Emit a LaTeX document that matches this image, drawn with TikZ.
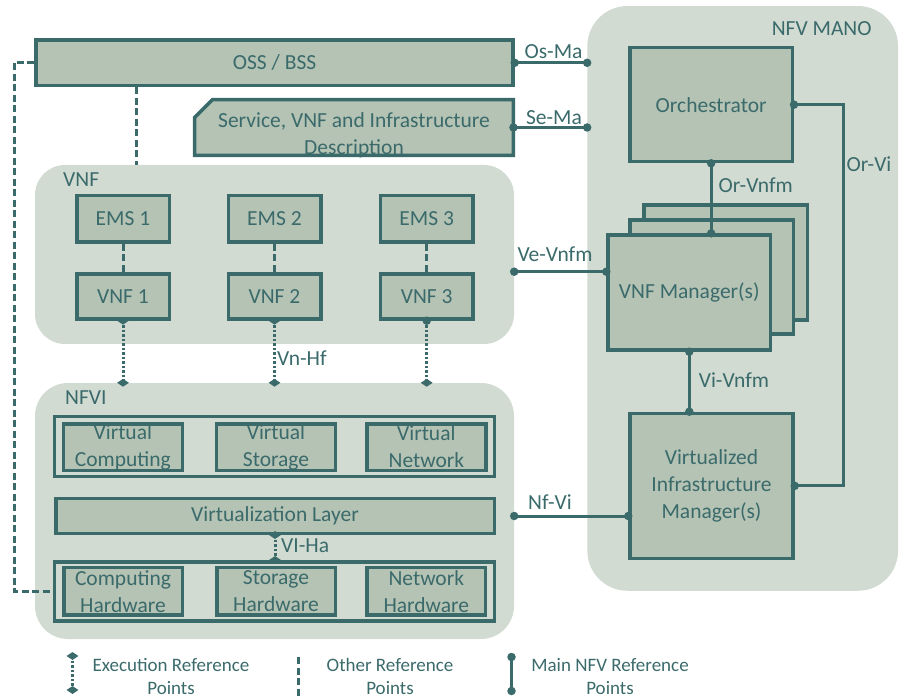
\documentclass[tikz,border=0pt]{standalone}
\usepackage{fontspec}
\setmainfont{Carlito}
\usetikzlibrary{calc,shapes.geometric}
\definecolor{ink}{HTML}{3B6A6B}
\definecolor{boxfill}{HTML}{B4C3B4}
\definecolor{panelfill}{HTML}{D1DBD2}
\newcommand{\lblfont}{\fontsize{21.5}{27}\selectfont}
\newcommand{\keyfont}{\fontsize{19}{23}\selectfont}

\begin{document}
\begin{tikzpicture}[x=1pt,y=-1pt,
  panel/.style={fill=panelfill, draw=none, rounded corners=#1, inner sep=0pt},
  box/.style={draw=ink, fill=boxfill, line width=3.5pt, inner sep=0pt, text=ink, font=\lblfont, align=center},
  group/.style={draw=ink, fill=panelfill, line width=3.5pt, inner sep=0pt},
  lbl/.style={text=ink, font=\lblfont, inner sep=0pt},
  key/.style={text=ink, font=\keyfont, inner sep=0pt, align=center},
  mainref/.style={draw=ink, line width=3pt},
  otherref/.style={draw=ink, line width=3pt, dash pattern=on 7pt off 3.5pt},
  execref/.style={draw=ink, line width=3pt, dash pattern=on 2.5pt off 2pt},
  dot/.style={circle, fill=ink, inner sep=0pt, minimum size=8.5pt},
  gem/.style={diamond, fill=ink, inner sep=0pt, minimum width=12pt, minimum height=8pt},
]
\useasboundingbox (0,0) rectangle (899,700);

% ---------- background panels ----------
\node[panel=40pt, minimum width=310.7pt, minimum height=584.7pt] (mano) at (742.7,298.4) {};
\node[panel=30pt, minimum width=479pt, minimum height=179pt] (vnfpanel) at (274.5,254.5) {};
\node[panel=33pt, minimum width=479pt, minimum height=256pt] (nfvi) at (274.5,511) {};

\node[lbl] at (821.7,28.3) {NFV MANO};
\node[lbl, anchor=west] at (63,179.3) {VNF};
\node[lbl, anchor=west] at (65,398) {NFVI};

% ---------- OSS/BSS and descriptors ----------
\node[box, minimum width=476.8pt, minimum height=45.5pt] (oss) at (274.55,62.8) {OSS / BSS};

\node[inner sep=0pt, minimum width=318.5pt, minimum height=55.5pt] (desc) at (354,127.5) {};
\filldraw[draw=ink, fill=boxfill, line width=3.5pt, line join=miter]
  ($(desc.north west)+(0,18)$) -- ($(desc.north west)+(18,0)$) -- (desc.north east)
  -- (desc.south east) -- (desc.south west) -- cycle;
\node[lbl, align=center, yshift=-7.5pt] at (desc.center) {Service, VNF and Infrastructure\\Description};

% ---------- VNF layer ----------
\foreach \i/\x in {1/123,2/274.5,3/426.7}{
  \node[box, minimum width=92.5pt, minimum height=46.5pt] (ems\i) at (\x,218.8) {EMS \i};
  \node[box, minimum width=92.5pt, minimum height=44.9pt] (vnf\i) at (\x,296.5) {VNF \i};
}

% ---------- NFVI ----------
\node[group, minimum width=439.8pt, minimum height=60.1pt] (virtgrp) at (274.35,446.5) {};
\node[box, minimum width=118.8pt, minimum height=46.5pt] (vcomp) at (122.85,447) {Virtual\\Computing};
\node[box, minimum width=118.8pt, minimum height=46.5pt] (vstor) at (276,447) {Virtual\\Storage};
\node[box, minimum width=118.8pt, minimum height=46.5pt] (vnet) at (426.35,447) {Virtual\\Network};

\node[box, minimum width=438.5pt, minimum height=35pt] (virtlayer) at (275,515.75) {Virtualization Layer};

\node[group, minimum width=439.8pt, minimum height=59.2pt] (hwgrp) at (274.35,591.35) {};
\node[box, minimum width=118.5pt, minimum height=47.5pt] (hcomp) at (123,591.2) {Computing\\Hardware};
\node[box, minimum width=118.5pt, minimum height=47.5pt] (hstor) at (276,591.2) {Storage\\Hardware};
\node[box, minimum width=118.5pt, minimum height=47.5pt] (hnet) at (426.3,591.2) {Network\\Hardware};

% ---------- MANO ----------
\node[box, minimum width=162.2pt, minimum height=113.8pt] (orch) at (711.15,104.65) {Orchestrator};
\node[box, minimum width=163.2pt, minimum height=114.9pt] (vnfmback) at (725.65,262.5) {};
\node[box, minimum width=163.2pt, minimum height=114.2pt] (vnfmmid) at (711.65,277.15) {};
\node[box, minimum width=162.5pt, minimum height=114.9pt] (vnfm) at (689.3,292.5) {VNF Manager(s)};
\node[box, minimum width=162.9pt, minimum height=144.8pt] (vim) at (711.5,485.85) {Virtualized\\Infrastructure\\Manager(s)};

% ---------- other reference points (dashed) ----------
\coordinate (leftbend) at (14,591.35);
\draw[otherref] (oss.west) -| (leftbend) -- (hwgrp.west);
\coordinate (ossdrop) at (136,87.3);
\draw[otherref] (ossdrop) -- (ossdrop |- vnfpanel.north);
\foreach \i in {1,2,3}{
  \draw[otherref] (ems\i.south) -- (vnf\i.north);
}

% ---------- execution reference points (dotted) ----------
\foreach \i in {1,2,3}{
  \draw[execref] (vnf\i.south) -- (vnf\i.south |- nfvi.north);
  \node[gem] at (vnf\i.south |- nfvi.north) {};
}
\node[gem] at (vnf1.south) {};
\node[gem] at (vnf2.south) {};
\node[dot] at (vnf3.south) {};
\node[lbl, anchor=west] at (277,358) {Vn-Hf};

\draw[execref] (virtlayer.south) -- (virtlayer.south |- hwgrp.north);
\node[gem] at (virtlayer.south) {};
\node[gem] at (virtlayer.south |- hwgrp.north) {};
\node[lbl, anchor=west] at (281,546) {VI-Ha};

% ---------- main NFV reference points ----------
\draw[mainref] (oss.east) -- (oss.east -| mano.west);
\node[dot] at (oss.east) {};
\node[dot] at (oss.east -| mano.west) {};
\node[lbl] at (553.5,51.5) {Os-Ma};

\draw[mainref] (desc.east) -- (desc.east -| mano.west);
\node[dot] at (desc.east) {};
\node[dot] at (desc.east -| mano.west) {};
\node[lbl] at (554,117.3) {Se-Ma};

\coordinate (veline) at (0,271.7);
\draw[mainref] (vnfpanel.east |- veline) -- (vnfm.west |- veline);
\node[dot] at (vnfpanel.east |- veline) {};
\node[dot] at (vnfm.west |- veline) {};
\node[lbl] at (555,254.3) {Ve-Vnfm};

\coordinate (nfline) at (0,516);
\draw[mainref] (nfvi.east |- nfline) -- (vim.west |- nfline);
\node[dot] at (nfvi.east |- nfline) {};
\node[dot] at (vim.west |- nfline) {};
\node[lbl] at (550,501.7) {Nf-Vi};

\draw[mainref] (orch.south) -- (orch.south |- vnfm.north);
\node[dot] at (orch.south) {};
\node[dot] at (orch.south |- vnfm.north) {};
\node[lbl] at (755.7,185) {Or-Vnfm};

\draw[mainref] (vnfm.south) -- (vnfm.south |- vim.north);
\node[dot] at (vnfm.south) {};
\node[dot] at (vnfm.south |- vim.north) {};
\node[lbl] at (734,380) {Vi-Vnfm};

\coordinate (orvibend) at (843,104.65);
\draw[mainref] (orch.east) -- (orvibend) |- (vim.east);
\node[dot] at (orch.east) {};
\node[dot] at (vim.east) {};
\node[lbl] at (869,164) {Or-Vi};

% ---------- legend ----------
\coordinate (k1a) at (72.5,656);
\coordinate (k1b) at (72.5,690);
\draw[execref] (k1a) -- (k1b);
\node[gem] at (k1a) {};
\node[gem] at (k1b) {};
\node[key] at (171,676.5) {Execution Reference\\Points};

\coordinate (k2a) at (298,657);
\coordinate (k2b) at (298,696);
\draw[otherref] (k2a) -- (k2b);
\node[key] at (390,676.5) {Other Reference\\Points};

\coordinate (k3a) at (511.5,657);
\coordinate (k3b) at (511.5,691);
\draw[mainref] (k3a) -- (k3b);
\node[dot] at (k3a) {};
\node[dot] at (k3b) {};
\node[key] at (610,676.5) {Main NFV Reference\\Points};
\end{tikzpicture}
\end{document}
